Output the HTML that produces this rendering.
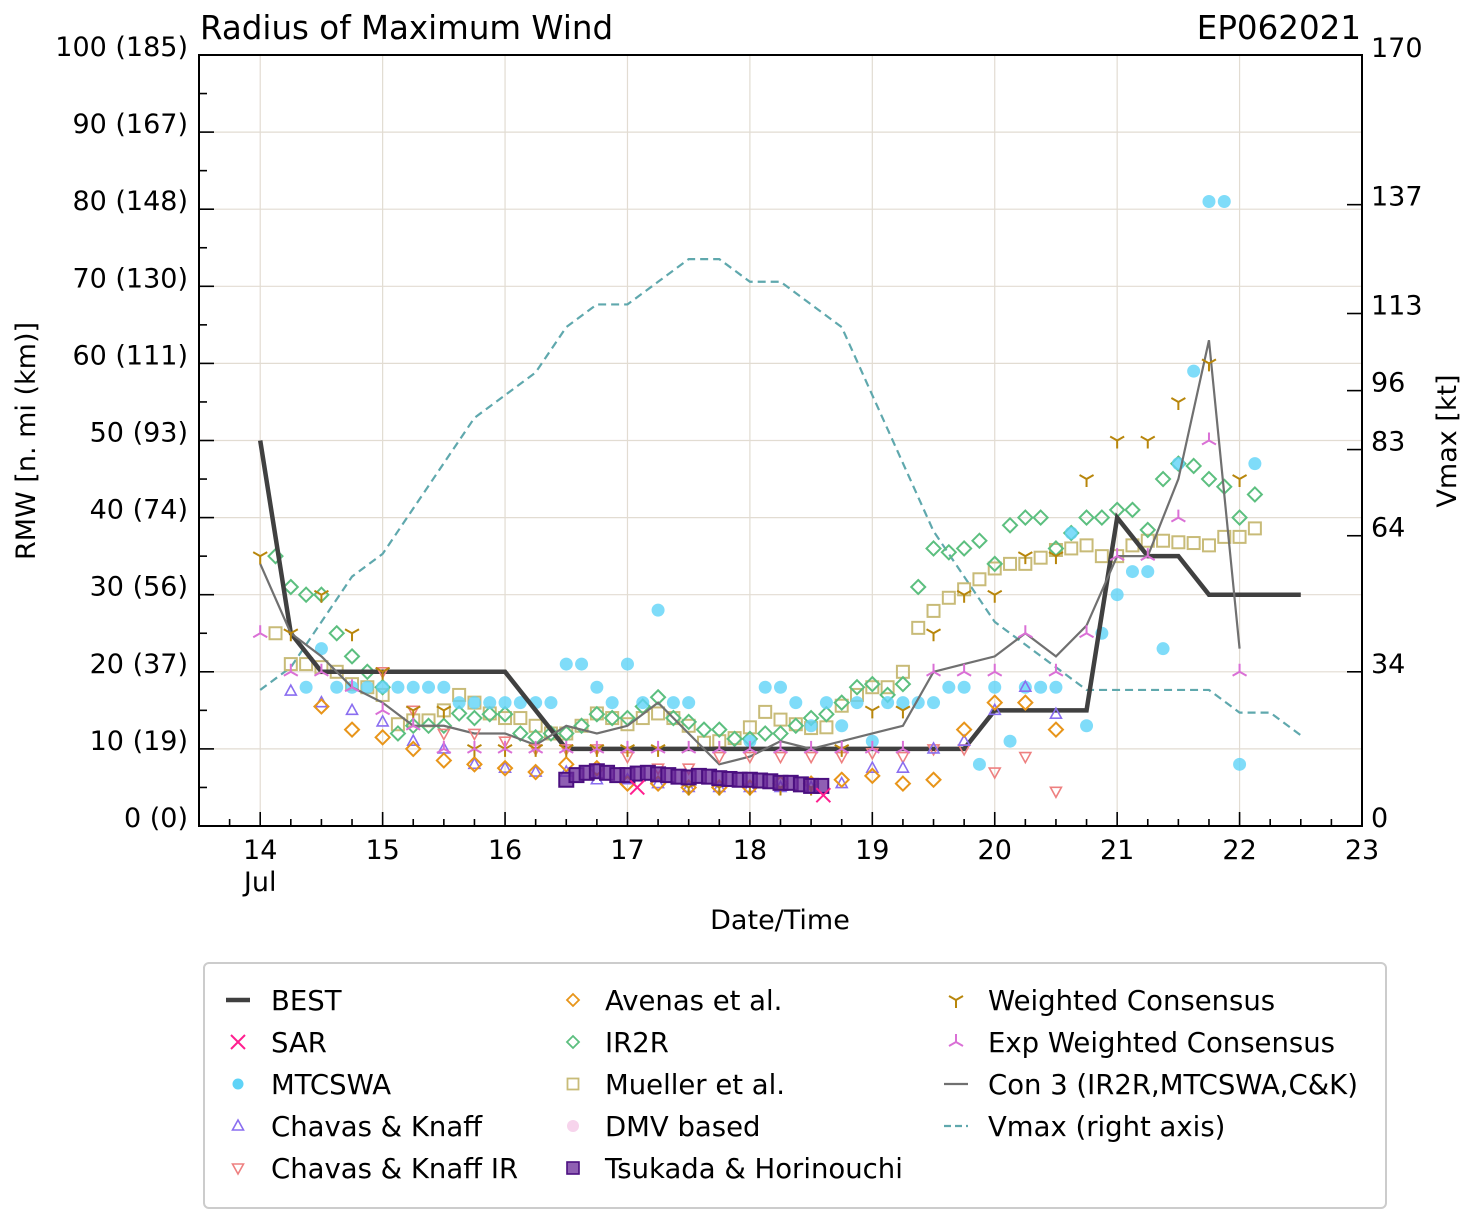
<!DOCTYPE html>
<html><head><meta charset="utf-8"><style>
body{margin:0;background:#fff;}
svg{display:block;font-family:"DejaVu Sans","Liberation Sans",sans-serif;}
</style></head><body>
<svg id="chart" width="1477" height="1222" viewBox="0 0 1477 1222">
<text x="200" y="39" font-size="32.5">Radius of Maximum Wind</text>
<text x="1361" y="39" font-size="32.5" text-anchor="end">EP062021</text>
<g id="grid"></g>
<g id="series"></g>
<g id="axes"></g>
<text x="780" y="929" font-size="27" text-anchor="middle">Date/Time</text>
<text transform="translate(35,441) rotate(-90)" font-size="27" text-anchor="middle">RMW [n. mi (km)]</text>
<text transform="translate(1456,441) rotate(-90)" font-size="27" text-anchor="middle">Vmax [kt]</text>
<g id="legend"></g>
</svg>
<script>
const NS='http://www.w3.org/2000/svg';
const X0=199,X1=1362,D0=13.5,D1=23,YB=826,YT=55;
function xs(d){return X0+(d-D0)/(D1-D0)*(X1-X0);}
function ys(v){return YB-v/100*(YB-YT);}
function yr(v){return YB-v/170*(YB-YT);}
function kd(k){return 14+k/8;}
function mk(tag,attrs,parent){const e=document.createElementNS(NS,tag);for(const a in attrs)e.setAttribute(a,attrs[a]);parent.appendChild(e);return e;}

// ---- data ----
const bestDays=[14,14.25,14.5,16,16.5,19.75,20,20.75,21,21.25,21.5,21.75,22.5];
const bestVals=[50,25,20,20,10,10,15,15,40,35,35,30,30];
const vmaxDays=[14,14.25,14.5,14.75,15,15.25,15.5,15.75,16,16.25,16.5,16.75,17,17.25,17.5,17.75,18,18.25,18.5,18.75,19,19.25,19.5,19.75,20,20.25,20.5,20.75,21,21.25,21.5,21.75,22,22.25,22.5];
const vmaxVals=[30,35,45,55,60,70,80,90,95,100,110,115,115,120,125,125,120,120,115,110,95,80,65,55,45,40,35,30,30,30,30,30,25,25,20];
const con3Days=[14,14.25,14.5,14.75,15,15.25,15.5,15.75,16,16.25,16.5,16.75,17,17.25,17.5,17.75,18,18.25,18.5,18.75,19,19.25,19.5,19.75,20,20.25,20.5,20.75,21,21.25,21.5,21.75,22];
const con3Vals=[34,25,22,18,16,13,13,12,12,10.5,13,12,13,16,12,8,9,11,10,11,12,13,20,21,22,25,22,26,35,35,45,63,23];
const mtcK=[3,4,5,6,7,8,9,10,11,12,13,14,15,16,17,18,19,20,21,22,23,24,25,26,27,28,32,33,34,35,36,37,38,39,40,41,42,43,44,45,46,47,48,49,50,51,52,53,54,55,56,57,58,59,60,61,62,63,64,65];
const mtcVals=[18,23,18,18,18,18,18,18,18,18,16,16,16,16,16,16,16,21,21,18,16,21,16,28,16,16,11,18,18,16,13,16,13,16,11,16,16,16,16,18,18,8,18,11,18,18,18,38,13,25,30,33,33,23,47,59,81,81,8,47];
const ir2rK=[1,2,3,4,5,6,7,8,9,10,11,12,13,14,15,16,17,18,19,20,21,22,23,24,25,26,27,28,29,30,31,32,33,34,35,36,37,38,39,40,41,42,43,44,45,46,47,48,49,50,51,52,53,54,55,56,57,58,59,60,61,62,63,64,65];
const ir2rVals=[35,31,30,30,25,22,20,18,12,13,13,13,14.6,14,14.5,14.5,12,11.5,12,12,13,14.5,14,14,15.5,16.7,14,13.5,12.5,12.5,11.3,11.3,12,12,13,14,14.5,16,18,18.4,17,18.4,31,36,35.5,36,37,34,39,40,40,36,38,40,40,41,41,38.4,45,47,46.7,45,44,40,43];
const muelK=[1,2,3,4,5,6,7,8,9,10,11,12,13,14,15,16,17,18,19,20,21,22,23,24,25,26,27,28,29,30,31,32,33,34,35,36,37,38,39,40,41,42,43,44,45,46,47,48,49,50,51,52,53,54,55,56,57,58,59,60,61,62,63,64,65];
const muelVals=[25,21,21,20.6,20,18.4,18,17,13.2,13.7,13.7,15,17,16,14.6,14,14,13,12,12,13,14.6,14,13.2,14,14.6,14,13,10.8,11,11.4,12.8,14.8,13.8,13.2,12.7,12.8,15.6,17,18,18,20,25.7,27.9,29.6,30.7,32,33.4,34,34,34.8,35.8,36,36.4,35,35,36.4,37,37,36.8,36.7,36.4,37.5,37.5,38.6];
const wcK=[0,2,4,6,8,10,12,14,16,18,20,22,24,26,28,30,32,34,36,38,40,42,44,46,48,50,52,54,56,58,60,62,64];
const wcVals=[35,25,30,25,20,15,15,10,10,10,10,10,10,10,5,5,5,5,5,10,15,15,25,30,30,35,35,45,50,50,55,60,45];
const ewcK=[0,2,4,6,8,10,12,14,16,18,20,22,24,26,28,30,32,34,36,38,40,42,44,46,48,50,52,54,56,58,60,62,64];
const ewcVals=[25,20,20,18,15,13,10,10,10,10,10,10,10,10,10,10,10,10,10,10,10,10,20,20,20,25,20,25,35,35,40,50,20];
const ckK=[2,4,6,8,10,12,14,16,18,20,22,24,26,28,30,32,34,36,38,40,42,44,46,48,50,52];
const ckVals=[17.5,16,15,13.5,11,10,8,7.5,7,7,6,6,5.5,5,5,5,5,5,5.5,7.5,7.5,10,11,15,18,14.5];
const ckirK=[8,10,12,14,16,18,20,22,24,26,28,30,32,34,36,38,40,42,44,46,48,50,52];
const ckirVals=[20,15,12,12,11,10,10,10,9,7.5,7.5,9,9,9,9,9,9.5,9,10,10,7,9,4.5];
const avK=[4,6,8,10,12,14,16,18,20,22,24,26,28,30,32,34,36,38,40,42,44,46,48,50,52];
const avVals=[15.5,12.5,11.5,10,8.5,8,7.5,7,8,7.5,5.5,5.5,5,5,5,5.5,5.5,6,6.5,5.5,6,12.5,16,16,12.5];
const sarDays=[17.08,18.6];
const sarVals=[5,4];
const tsuVals=[6,6.6,6.9,7.1,6.9,6.6,6.6,6.8,6.9,6.7,6.6,6.4,6.3,6.5,6.4,6.2,6.1,6.0,6.0,5.9,5.8,5.6,5.6,5.4,5.2,5.2];
const tsuStart=16.5, tsuStep=1/12;
const xTicks=[14,15,16,17,18,19,20,21,22,23];
const yTicks=[0,10,20,30,40,50,60,70,80,90,100];
const yTickLabels=['0 (0)','10 (19)','20 (37)','30 (56)','40 (74)','50 (93)','60 (111)','70 (130)','80 (148)','90 (167)','100 (185)'];
const rTicks=[0,34,64,83,96,113,137,170];

const grid=document.getElementById('grid'),ser=document.getElementById('series'),ax=document.getElementById('axes'),lg=document.getElementById('legend');
xTicks.forEach(d=>{const l=mk('line',{x1:xs(d),x2:xs(d),y1:YT,y2:YB,stroke:'#e2dcd2','stroke-width':1.2},grid);

});
yTicks.forEach(v=>{const l=mk('line',{x1:X0,x2:X1,y1:ys(v),y2:ys(v),stroke:'#e2dcd2','stroke-width':1.2},grid);

});

function marker(type,x,y,g){
  let e;
  if(type==='circle'){e=mk('circle',{cx:x,cy:y,r:6.5,fill:'#5fd3f7','fill-opacity':0.8},g);}
  else if(type==='diamond'){e=mk('polygon',{points:`${x},${y-7} ${x+7},${y} ${x},${y+7} ${x-7},${y}`,fill:'none',stroke:g._c,'stroke-width':2},g);}
  else if(type==='square'){e=mk('rect',{x:x-6,y:y-6,width:12,height:12,fill:'none',stroke:g._c,'stroke-width':2},g);}
  else if(type==='tsq'){e=mk('rect',{x:x-7,y:y-7,width:14,height:14,fill:'#6a2a9a','fill-opacity':0.75,stroke:'#4b0f80','stroke-width':2},g);}
  else if(type==='tri'){e=mk('polygon',{points:`${x},${y-6} ${x+5.5},${y+4} ${x-5.5},${y+4}`,fill:'none',stroke:g._c,'stroke-width':1.6},g);}
  else if(type==='tridown'){e=mk('polygon',{points:`${x},${y+6} ${x+5.5},${y-4} ${x-5.5},${y-4}`,fill:'none',stroke:g._c,'stroke-width':1.6},g);}
  else if(type==='x'){e=mk('path',{d:`M${x-7},${y-7}L${x+7},${y+7}M${x-7},${y+7}L${x+7},${y-7}`,stroke:g._c,'stroke-width':2},g);}
  else if(type==='Y'){e=mk('path',{d:`M${x},${y}L${x},${y+8}M${x},${y}L${x-7},${y-4}M${x},${y}L${x+7},${y-4}`,stroke:g._c,'stroke-width':2,fill:'none'},g);}
  else if(type==='Yup'){e=mk('path',{d:`M${x},${y}L${x},${y-8}M${x},${y}L${x-7},${y+4}M${x},${y}L${x+7},${y+4}`,stroke:g._c,'stroke-width':2,fill:'none'},g);}
  return e;
}
function scatter(name,type,color,days,vals){
  const g=mk('g',{},ser);g._c=color;
  
  
  days.forEach((d,i)=>{const e=marker(type,xs(d),ys(vals[i]),g);
    
    });
}
function line(name,days,vals,scale,attrs){
  const p=mk('polyline',Object.assign({points:days.map((d,i)=>xs(d)+','+scale(vals[i])).join(' '),fill:'none'},attrs),ser);
  
  
}
line('vmax-line',vmaxDays,vmaxVals,yr,{stroke:'#5fa8ad','stroke-width':2.2,'stroke-dasharray':'8,5'});
scatter('mueller-points','square','#c8bb78',muelK.map(kd),muelVals);
scatter('ir2r-points','diamond','#5cbf7f',ir2rK.map(kd),ir2rVals);
scatter('mtcswa-points','circle','#5fd3f7',mtcK.map(kd),mtcVals);
line('best-line',bestDays,bestVals,ys,{stroke:'#404040','stroke-width':4.5});
line('con3-line',con3Days,con3Vals,ys,{stroke:'#707070','stroke-width':2.2});
scatter('chavas-knaff-ir-points','tridown','#ee8080',ckirK.map(kd),ckirVals);
scatter('chavas-knaff-points','tri','#8a6ef0',ckK.map(kd),ckVals);
scatter('avenas-points','diamond','#e8951a',avK.map(kd),avVals);
scatter('weighted-consensus-points','Y','#b8860b',wcK.map(kd),wcVals);
scatter('exp-weighted-consensus-points','Yup','#da70d6',ewcK.map(kd),ewcVals);
scatter('tsukada-points','tsq','#6a2a9a',tsuVals.map((v,i)=>tsuStart+i*tsuStep),tsuVals);
scatter('sar-points','x','#ff1f8f',sarDays,sarVals);

mk('rect',{x:X0,y:YT,width:X1-X0,height:YB-YT,fill:'none',stroke:'#000','stroke-width':2},ax);
for(let d=13.5;d<=23.001;d+=0.25){const maj=Math.abs(d-Math.round(d))<1e-6;
  const t=mk('line',{x1:xs(d),x2:xs(d),y1:YB,y2:YB-(maj?14:7),stroke:'#000','stroke-width':1.6},ax);
  
  }
xTicks.forEach(d=>{const t=mk('text',{x:xs(d),y:859,'font-size':27,'text-anchor':'middle'},ax);t.textContent=String(d);
  
  });
const jl=mk('text',{x:xs(14),y:891,'font-size':27,'text-anchor':'middle'},ax);jl.textContent='Jul';


for(let v=0;v<=100;v+=5){const maj=v%10===0;
  const t=mk('line',{x1:X0,x2:X0+(maj?15:8),y1:ys(v),y2:ys(v),stroke:'#000','stroke-width':1.6},ax);
  
  }
yTicks.forEach((v,i)=>{const t=mk('text',{x:188,y:ys(v)+1,'font-size':27,'text-anchor':'end'},ax);t.textContent=yTickLabels[i];
  
  });
rTicks.forEach(v=>{const t=mk('line',{x1:X1,x2:X1-15,y1:yr(v),y2:yr(v),stroke:'#000','stroke-width':1.6},ax);
  
  
  const l=mk('text',{x:1371,y:yr(v)+(v===170?2:1),'font-size':27},ax);l.textContent=String(v);
  
  });

mk('rect',{x:204,y:963,width:1182,height:245,rx:5,fill:'#fff',stroke:'#ccc','stroke-width':2},lg);
const legItems=[
 ['BEST','bestline',238,1000],['SAR','x',238,1042],['MTCSWA','circle',238,1084],['Chavas & Knaff','tri',238,1126],['Chavas & Knaff IR','tridown',238,1168],
 ['Avenas et al.','diamondO',573,1000],['IR2R','diamondG',573,1042],['Mueller et al.','square',573,1084],['DMV based','dmv',573,1126],['Tsukada & Horinouchi','tsq',573,1168],
 ['Weighted Consensus','Y',956,1000],['Exp Weighted Consensus','Yup',956,1042],['Con 3 (IR2R,MTCSWA,C&K)','conline',956,1084],['Vmax (right axis)','vline',956,1126]];
const colors={x:'#ff1f8f',tri:'#8a6ef0',tridown:'#ee8080',square:'#c8bb78',Y:'#b8860b',Yup:'#da70d6'};
legItems.forEach(it=>{const [lab,type,x,y]=it;const g=mk('g',{},lg);
  
  
  g._c=colors[type]||'#000';
  if(type==='bestline')mk('line',{x1:x-12,x2:x+12,y1:y,y2:y,stroke:'#404040','stroke-width':4.5},g);
  else if(type==='conline')mk('line',{x1:x-12,x2:x+12,y1:y,y2:y,stroke:'#707070','stroke-width':2.2},g);
  else if(type==='vline')mk('line',{x1:x-12,x2:x+12,y1:y,y2:y,stroke:'#5fa8ad','stroke-width':2.2,'stroke-dasharray':'7,4'},g);
  else if(type==='diamondO'){g._c='#e8951a';mk('polygon',{points:`${x},${y-6} ${x+6},${y} ${x},${y+6} ${x-6},${y}`,fill:'none',stroke:g._c,'stroke-width':1.8},g);}
  else if(type==='diamondG'){g._c='#5cbf7f';mk('polygon',{points:`${x},${y-6} ${x+6},${y} ${x},${y+6} ${x-6},${y}`,fill:'none',stroke:g._c,'stroke-width':1.8},g);}
  else if(type==='square')mk('rect',{x:x-5.5,y:y-5.5,width:11,height:11,fill:'none',stroke:g._c,'stroke-width':1.8},g);
  else if(type==='circle')mk('circle',{cx:x,cy:y,r:5.5,fill:'#5fd3f7'},g);
  else if(type==='dmv')mk('circle',{cx:x,cy:y,r:6,fill:'#f7d4ec'},g);
  else if(type==='tsq')mk('rect',{x:x-6,y:y-6,width:12,height:12,fill:'#6a2a9a','fill-opacity':0.75,stroke:'#4b0f80','stroke-width':1.6},g);
  else marker(type,x,y,g);
  const t=mk('text',{x:type.startsWith('diamond')||['square','dmv','tsq'].includes(type)?605:(x>900?988:271),y:y+10,'font-size':27.5},g);t.textContent=lab;
});
</script>
</body></html>
